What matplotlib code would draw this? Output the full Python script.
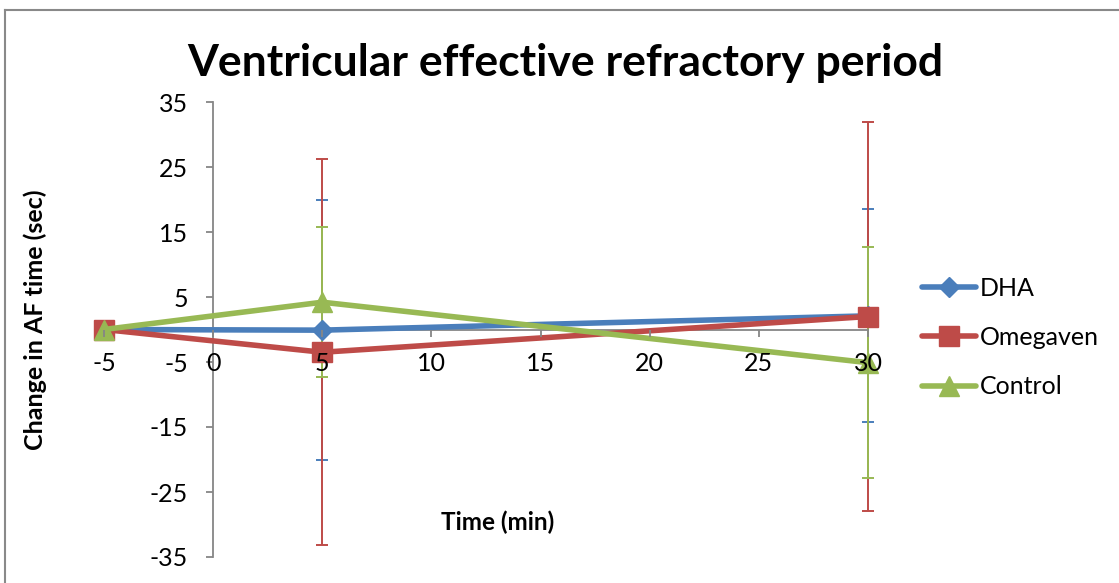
import matplotlib
matplotlib.use("Agg")
import matplotlib.pyplot as plt
from matplotlib.lines import Line2D

plt.rcParams['font.family'] = ['Lato', 'DejaVu Sans']
plt.rcParams['axes.unicode_minus'] = False

# Change in AF time (sec) at each time point, with error bar half-widths
time_min = [-5, 5, 30]
dha = [0.0, -0.1, 2.1]
dha_err = [0.0, 20.0, 16.4]
omegaven = [0.0, -3.5, 2.0]
omegaven_err = [0.0, 29.7, 29.9]
control = [0.0, 4.2, -5.1]
control_err = [0.0, 11.5, 17.8]

x_ticks = [-5, 0, 5, 10, 15, 20, 25, 30]
y_ticks = [-35, -25, -15, -5, 5, 15, 25, 35]

series = [
    ("DHA", dha, dha_err, "#4A7EBB", "D", 10),
    ("Omegaven", omegaven, omegaven_err, "#BE4B48", "s", 14),
    ("Control", control, control_err, "#98B954", "^", 15),
]

axis_gray = "#868686"

fig = plt.figure(figsize=(11.19, 5.83), dpi=100)
ax = fig.add_axes([104 / 1119, 26 / 583, 764 / 1119, 455 / 583])

lines = []
for name, vals, errs, color, marker, ms in series:
    ax.errorbar(time_min, vals, yerr=errs, fmt="none", ecolor=color,
                elinewidth=1.4, capsize=4.3, capthick=1.4, zorder=2,
                clip_on=False)
for name, vals, errs, color, marker, ms in series:
    ln, = ax.plot(time_min, vals, color=color, lw=4, marker=marker,
                  markersize=ms, markerfacecolor=color, markeredgecolor=color,
                  label=name, zorder=3, solid_capstyle="round", clip_on=False)
    lines.append(ln)

ax.set_xlim(-5, 30)
ax.set_ylim(-35, 35)
ax.set_xticks(x_ticks)
ax.set_yticks(y_ticks)

for side in ("top", "right"):
    ax.spines[side].set_visible(False)
ax.spines["left"].set_position(("data", 0))
ax.spines["bottom"].set_position(("data", 0))
for side in ("left", "bottom"):
    ax.spines[side].set_color(axis_gray)
    ax.spines[side].set_linewidth(1.3)

ax.tick_params(axis="x", direction="out", length=5, width=1.3, color=axis_gray,
               labelsize=18, pad=11)
ax.tick_params(axis="y", direction="out", length=5, width=1.3, color=axis_gray,
               labelsize=18, pad=13)
ax.xaxis.set_zorder(4)
ax.patch.set_visible(False)

ax.legend(handles=lines, loc="center left", bbox_to_anchor=(922 / 1119, 1 - 337.5 / 583),
          bbox_transform=fig.transFigure, frameon=False, fontsize=18,
          handlelength=2.15, handletextpad=0.18, labelspacing=1.05,
          borderpad=0, borderaxespad=0)

fig.text(565 / 1119, 1 - 63 / 583, "Ventricular effective refractory period",
         ha="center", va="center", fontsize=32, fontweight="bold")
fig.text(35 / 1119, 1 - 320 / 583, "Change in AF time (sec)", rotation=90,
         ha="center", va="center", fontsize=18, fontweight="bold")
fig.text(498 / 1119, 1 - 522 / 583, "Time (min)", ha="center", va="center",
         fontsize=17.5, fontweight="bold")

# chart area border (top and left edges)
fig.add_artist(Line2D([4.5 / 1119, 1], [1 - 9.5 / 583, 1 - 9.5 / 583],
                      transform=fig.transFigure, color="#898989", lw=1.5))
fig.add_artist(Line2D([4.5 / 1119, 4.5 / 1119], [0, 1 - 9.5 / 583],
                      transform=fig.transFigure, color="#898989", lw=1.5))

fig.savefig("out.png", dpi=100)
